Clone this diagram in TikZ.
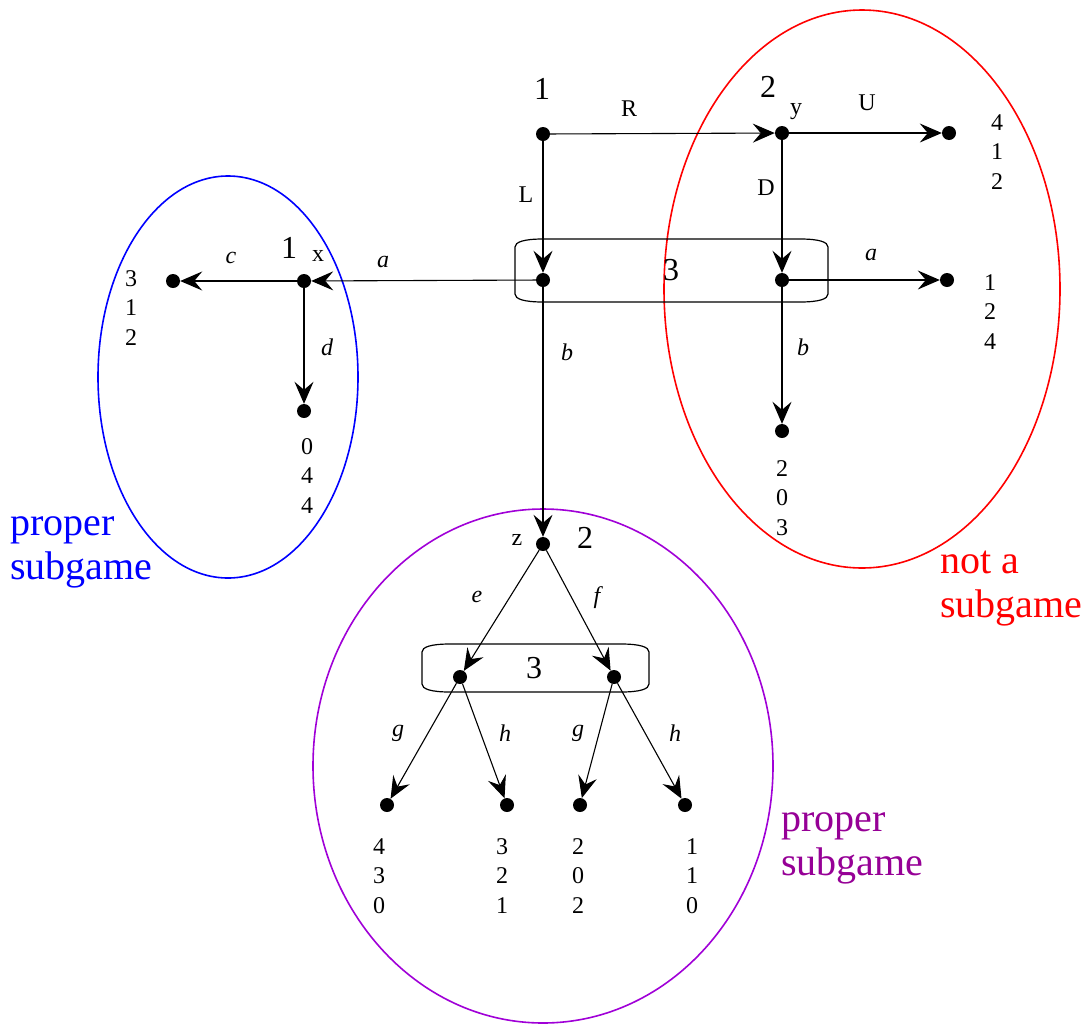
\documentclass[tikz,border=0pt]{standalone}
\usepackage{fontspec}
\setmainfont{Liberation Serif}
\usetikzlibrary{arrows.meta}
\definecolor{ellpurple}{RGB}{160,0,215}
\definecolor{txtpurple}{RGB}{150,0,150}
\newcommand\infobox[4]{%
  \draw[infob] (#1+28,#2) -- (#3-28,#2) .. controls (#3-9,#2) and (#3,#2+3) .. (#3,#2+8)
    -- (#3,#4-8) .. controls (#3,#4-3) and (#3-9,#4) .. (#3-28,#4)
    -- (#1+28,#4) .. controls (#1+9,#4) and (#1,#4-3) .. (#1,#4-8)
    -- (#1,#2+8) .. controls (#1,#2+3) and (#1+9,#2) .. cycle;}
\begin{document}
\begin{tikzpicture}[x=1pt,y=-1pt,
  dot/.style={circle,fill=black,inner sep=0pt,minimum size=14pt},
  arr/.style={line width=1.1pt,-{Stealth[length=22pt,width=19pt,inset=8pt]}},
  infob/.style={line width=1.2pt},
  ell/.style={line width=1.6pt},
  lab/.style={inner sep=0pt,font=\fontsize{24}{29.5}\selectfont},
  ilab/.style={inner sep=0pt,font=\fontsize{24}{29.5}\selectfont\itshape},
  pay/.style={inner sep=0pt,align=center,font=\fontsize{24}{29.5}\selectfont},
  plab/.style={inner sep=0pt,font=\fontsize{32}{36}\selectfont},
  note/.style={inner sep=0pt,align=left,anchor=base west,font=\fontsize{40}{44}\selectfont}]
\useasboundingbox (0,0) rectangle (1089,1026);
% ellipses
\draw[ell,blue] (228,377) ellipse [x radius=130pt, y radius=201pt];
\draw[ell,red] (862,289) ellipse [x radius=198pt, y radius=279pt];
\draw[ell,ellpurple] (543,766) ellipse [x radius=230pt, y radius=257pt];
% information sets
\infobox{515}{239}{828}{302}
\infobox{422}{644}{649}{692}
% nodes
\node[dot] (n1) at (543,134) {};
\node[dot] (yn) at (782,133) {};
\node[dot] (tU) at (949,133) {};
\node[dot] (i1) at (543,280) {};
\node[dot] (i2) at (782,280) {};
\node[dot] (ta) at (947,280) {};
\node[dot] (tb) at (782,431) {};
\node[dot] (xn) at (304,281) {};
\node[dot] (tc) at (173,281) {};
\node[dot] (td) at (304,411) {};
\node[dot] (zn) at (543,544) {};
\node[dot] (e1) at (460,677) {};
\node[dot] (f1) at (614,677) {};
\node[dot] (t1) at (387,805) {};
\node[dot] (t2) at (507,805) {};
\node[dot] (t3) at (580,805) {};
\node[dot] (t4) at (685,805) {};
% edges
\draw[arr] (n1) -- (yn);
\draw[arr] (n1) -- (i1);
\draw[arr] (yn) -- (tU);
\draw[arr] (yn) -- (i2);
\draw[arr] (i2) -- (ta);
\draw[arr] (i2) -- (tb);
\draw[arr] (i1) -- (xn);
\draw[arr] (xn) -- (tc);
\draw[arr] (xn) -- (td);
\draw[arr] (i1) -- (zn);
\draw[arr] (zn) -- (e1);
\draw[arr] (zn) -- (f1);
\draw[arr] (e1) -- (t1);
\draw[arr] (e1) -- (t2);
\draw[arr] (f1) -- (t3);
\draw[arr] (f1) -- (t4);
% player labels
\node[plab] (p1) at (542,89) {1};
\node[plab] (p2) at (768,87) {2};
\node[plab] (p3) at (671,270) {3};
\node[plab] (p1x) at (289,248) {1};
\node[plab] (p2z) at (585,538) {2};
\node[plab] (p3b) at (534,668) {3};
% node names
\node[lab] (ly) at (796,112) {y};
\node[lab] (lx) at (318,256) {x};
\node[lab] (lz) at (517,540) {z};
% action labels
\node[lab] (lR) at (629,109) {R};
\node[lab] (lL) at (526,195) {L};
\node[lab] (lU) at (867,103) {U};
\node[lab] (lD) at (766,188) {D};
\node[ilab] (la1) at (871,255) {a};
\node[ilab] (lb1) at (803,347) {b};
\node[ilab] (la2) at (383,262) {a};
\node[ilab] (lc) at (231,258) {c};
\node[ilab] (ld) at (327,347) {d};
\node[ilab] (lb2) at (567,352) {b};
\node[ilab] (le) at (477,597) {e};
\node[ilab] (lf) at (597,598) {f};
\node[ilab] (lg1) at (398,733) {g};
\node[ilab] (lh1) at (505,733) {h};
\node[ilab] (lg2) at (578,733) {g};
\node[ilab] (lh2) at (675,733) {h};
% payoffs
\node[pay] (pU) at (997,152) {4\\1\\2};
\node[pay] (pa) at (990,312) {1\\2\\4};
\node[pay] (pb) at (782,498) {2\\0\\3};
\node[pay] (pc) at (131,308) {3\\1\\2};
\node[pay] (pd) at (307,476) {0\\4\\4};
\node[pay] (q1) at (379,876) {4\\3\\0};
\node[pay] (q2) at (502,876) {3\\2\\1};
\node[pay] (q3) at (578,876) {2\\0\\2};
\node[pay] (q4) at (692,876) {1\\1\\0};
% notes
\node[note,text=blue] (nb) at (10,579) {proper\\subgame};
\node[note,text=red] (nr) at (940,617) {not a\\subgame};
\node[note,text=txtpurple] (np) at (781,875) {proper\\subgame};
\end{tikzpicture}
\end{document}
